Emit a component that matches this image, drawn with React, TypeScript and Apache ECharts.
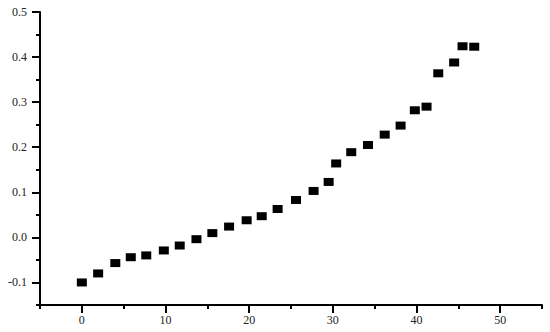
import React, { useEffect, useRef } from "react";
import * as echarts from "echarts";

const xValues = [0, 1.95, 4.0, 5.85, 7.7, 9.8, 11.7, 13.7, 15.6, 17.6, 19.7, 21.5, 23.4, 25.6, 27.7, 29.5, 30.4, 32.2, 34.2, 36.2, 38.1, 39.8, 41.2, 42.6, 44.5, 45.5, 46.9];
const yValues = [-0.1, -0.08, -0.057, -0.044, -0.04, -0.029, -0.018, -0.004, 0.0095, 0.024, 0.038, 0.047, 0.063, 0.083, 0.103, 0.123, 0.164, 0.189, 0.205, 0.228, 0.248, 0.282, 0.29, 0.364, 0.388, 0.424, 0.423];
const xMajorTicks = [0, 10, 20, 30, 40, 50];
const yMajorTicks = [-0.1, 0, 0.1, 0.2, 0.3, 0.4, 0.5];

export default function App() {
  const ref = useRef<HTMLDivElement>(null);
  useEffect(() => {
    if (!ref.current) return;
    const chart = echarts.init(ref.current, null, { renderer: "svg" });
    const font = { fontFamily: "'Liberation Serif', 'Times New Roman', serif", fontSize: 12, color: "#222" };
    const lineStyle = { color: "#000", width: 2 };
    chart.setOption({
      animation: false,
      grid: { left: 40, right: 8, top: 12, bottom: 27, containLabel: false },
      xAxis: [
        {
          type: "value", min: -5, max: 55, interval: 5,
          axisLine: { show: true, onZero: false, lineStyle },
          axisTick: { show: true, length: 4, lineStyle },
          axisLabel: { show: false },
          splitLine: { show: false },
        },
        {
          type: "value", min: -5, max: 55, position: "bottom",
          axisLine: { show: false, onZero: false },
          axisTick: { show: true, length: 8, lineStyle, customValues: xMajorTicks },
          axisLabel: { ...font, margin: 9, customValues: xMajorTicks, formatter: (v: number) => String(v) },
          splitLine: { show: false },
        },
      ],
      yAxis: [
        {
          type: "value", min: -0.15, max: 0.5, interval: 0.05,
          axisLine: { show: true, onZero: false, lineStyle },
          axisTick: { show: true, length: 4, lineStyle },
          axisLabel: { show: false },
          splitLine: { show: false },
        },
        {
          type: "value", min: -0.15, max: 0.5, position: "left",
          axisLine: { show: false, onZero: false },
          axisTick: { show: true, length: 8, lineStyle, customValues: yMajorTicks },
          axisLabel: { ...font, margin: 13, customValues: yMajorTicks, formatter: (v: number) => v.toFixed(1) },
          splitLine: { show: false },
        },
      ],
      series: [
        {
          type: "scatter",
          xAxisIndex: 0,
          yAxisIndex: 0,
          symbol: "rect",
          symbolSize: [10, 8],
          itemStyle: { color: "#000", opacity: 1 },
          data: xValues.map((x, i) => [x, yValues[i]]),
        },
      ],
    });
    return () => chart.dispose();
  }, []);
  return (
    <div
      ref={ref}
      style={{ position: "fixed", left: 0, top: 0, width: 550, height: 332, background: "#fff" }}
    />
  );
}
